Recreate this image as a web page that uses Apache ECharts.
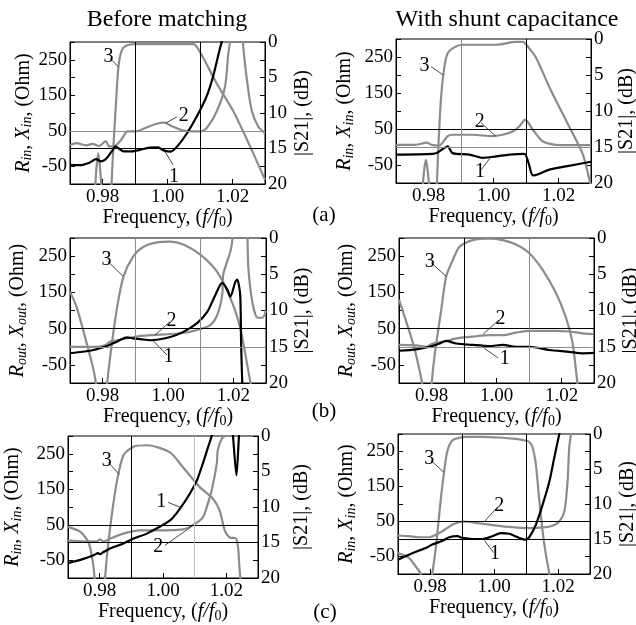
<!DOCTYPE html>
<html>
<head>
<meta charset="utf-8">
<script src="https://cdn.jsdelivr.net/npm/echarts@6/dist/echarts.min.js"></script>
<style>html,body{margin:0;padding:0;background:#fff;}#c{width:636px;height:625px;}</style>
</head>
<body>
<div id="c"></div>
<script>
// ---------- data (frequency f/f0, value) ----------
// curve 1 / curve 2 in Ohm (left axis), curve 3 = |S21| in dB (right axis, inverted)
const aL_c1 = [[0.970,-46],[0.973,-47],[0.976,-40],[0.978,-30],[0.9795,-36],[0.981,-30],[0.983,-6],[0.984,6],[0.985,0],[0.9865,-8],[0.989,-8],[0.9915,-4],[0.994,2],[0.997,3],[0.999,-6],[1.001,-9],[1.003,6],[1.006,43],[1.009,90],[1.012,146],[1.014,202],[1.016,277],[1.0175,330],[1.019,420]];
const aL_c2 = [[0.970,10],[0.972,15],[0.975,9],[0.977,13],[0.979,7],[0.981,21],[0.982,6],[0.9836,6],[0.9857,24],[0.9877,48],[0.990,48],[0.993,57],[0.9964,69],[0.999,73],[1.0015,62],[1.0046,51],[1.0077,48],[1.010,48],[1.012,57],[1.0151,104],[1.0177,174],[1.0187,267],[1.0194,314],[1.0205,600],[1.022,600],[1.0231,314],[1.0244,196],[1.0259,108],[1.0279,62],[1.030,43]];
const aL_c3 = [[0.970,30],[0.977,30],[0.9778,20],[0.9787,15.7],[0.9796,20],[0.9805,30],[0.9822,30],[0.9828,20],[0.9833,15.2],[0.9842,8.2],[0.9849,3.5],[0.9859,1.2],[0.9874,0.5],[0.990,0.3],[1.000,0.3],[1.008,0.3],[1.010,1.4],[1.0151,5.8],[1.0203,9.8],[1.0254,14.7],[1.030,19.4]];
const aL_notes = [['3',0.9823,254,0.9849,230],['2',1.0029,89,0.9995,72],['1',1.0017,-46,0.9993,-10]];

const aR_c1 = [[0.970,-21],[0.9813,-19],[0.9828,-15],[0.9845,-5],[0.9859,2],[0.9874,-17],[0.9926,-21],[0.9967,-30],[1.0008,-26],[1.0049,-21],[1.0095,-19],[1.0108,-45],[1.0121,-79],[1.014,-75],[1.0172,-63],[1.0223,-54],[1.030,-41]];
const aR_c2 = [[0.970,6],[0.976,6],[0.9795,12],[0.981,6],[0.9833,4],[0.9859,30],[0.9874,34],[0.9936,34],[0.9997,30],[1.0028,34],[1.0059,43],[1.0079,57],[1.0098,76],[1.0121,48],[1.0151,16],[1.0192,6],[1.030,5]];
const aR_c3 = [[0.970,30],[0.9776,30],[0.9783,20],[0.9792,16.8],[0.9801,20],[0.9808,30],[0.9822,30],[0.9826,20],[0.9838,8.5],[0.9849,3.8],[0.9859,2],[0.9874,1.3],[0.9905,0.8],[0.9967,0.8],[1.0008,0.8],[1.0069,0.4],[1.009,0.4],[1.011,1.3],[1.0131,2.6],[1.0172,6.7],[1.0223,11.3],[1.0274,15.9],[1.0295,19.5],[1.030,20.5]];
const aR_notes = [['3',0.9808,223,0.9846,200],['2',0.9962,67,1.0008,29],['1',0.9962,-63,0.9992,-28]];

const bL_c1 = [[0.970,-18],[0.9772,-9],[0.9812,2],[0.9843,14],[0.9874,26],[0.9894,23],[0.9925,20],[0.9945,18],[1.0007,27],[1.0047,41],[1.009,66],[1.012,96],[1.0145,143],[1.0166,176],[1.0182,157],[1.0191,138],[1.0206,179],[1.0212,185],[1.0221,143],[1.0224,0],[1.0228,-120]];
const bL_c2 = [[0.970,0],[0.978,0],[0.981,5],[0.9823,14],[0.9874,23],[0.9915,30],[0.9945,32],[1.0047,38],[1.0099,49],[1.013,60],[1.0151,88],[1.0166,143],[1.0169,199],[1.0181,235],[1.0191,263],[1.0197,296],[1.0205,500],[1.0236,500],[1.0243,309],[1.0246,218],[1.0258,124],[1.0274,80],[1.0289,80],[1.030,100]];
const bL_c3 = [[0.970,7.4],[0.972,9.5],[0.9751,14.5],[0.9772,18.2],[0.9782,21],[0.980,30],[0.9812,21],[0.9823,16.4],[0.9843,9.9],[0.9864,5.3],[0.9894,2.5],[0.9925,1.2],[0.9966,0.6],[1.0007,0.5],[1.0047,0.9],[1.0099,2.3],[1.0151,4.7],[1.0191,8.3],[1.0221,12.4],[1.0252,19.9],[1.026,22]];
const bL_notes = [['3',0.9816,235,0.9862,195],['2',1.0006,69,0.996,32],['1',0.9997,-23,0.9954,17]];

const bR_c1 = [[0.970,-11],[0.9753,-7],[0.9794,0],[0.9825,9],[0.9845,16],[0.9876,9],[0.9927,5],[0.9978,2],[1.0019,5],[1.006,0],[1.0101,0],[1.0162,-9],[1.0224,-14],[1.0264,-18],[1.030,-17]];
const bR_c2 = [[0.970,5],[0.9753,4],[0.9784,0],[0.9804,9],[0.984,14],[0.9876,23],[0.9927,28],[0.9978,32],[1.0019,32],[1.006,39],[1.0101,44],[1.0142,44],[1.0183,44],[1.0224,42],[1.0264,37],[1.030,35]];
const bR_c3 = [[0.970,8.5],[0.9743,14.5],[0.9763,18.2],[0.9774,21],[0.979,30],[0.9799,21],[0.9809,16.4],[0.983,9.9],[0.9845,5.3],[0.9866,3],[0.9886,1.2],[0.9927,0.3],[0.9978,0.1],[1.0019,0.3],[1.006,0.9],[1.0101,2.1],[1.0142,4.4],[1.0183,7.6],[1.0213,10.9],[1.0234,14.5],[1.0249,20],[1.0255,22]];
const bR_notes = [['3',0.9799,232,0.9845,194],['2',1.0008,74,0.9959,35],['1',1.0005,-31,0.9962,-4]];

const cL_c1 = [[0.970,-58],[0.9749,-46],[0.9781,-36],[0.9795,-30],[0.980,-33],[0.9812,-27],[0.9833,-17],[0.9875,-3],[0.9907,11],[0.9949,25],[1.0022,62],[1.0054,96],[1.0085,138],[1.0107,175],[1.0126,223],[1.0142,268],[1.0155,305],[1.0165,400],[1.021,400],[1.0221,300],[1.0232,189],[1.024,300],[1.025,400],[1.030,400]];
const cL_c2 = [[0.970,6],[0.9749,3],[0.9791,3],[0.9801,9],[0.9812,3],[0.9833,11],[0.9875,25],[0.9927,34],[0.9959,34],[1.0063,37],[1.0094,49],[1.0126,71],[1.0142,111],[1.0154,148],[1.017,223],[1.0173,260],[1.0186,293],[1.0201,302],[1.0217,305],[1.025,330],[1.030,340]];
const cL_c3 = [[0.970,12.8],[0.9739,13.5],[0.9765,15],[0.9779,17.9],[0.9784,20],[0.980,26],[0.9817,20],[0.9823,16.8],[0.9838,11.2],[0.9854,6.5],[0.9875,2.7],[0.9907,1.5],[0.9949,1.3],[1.0022,2.3],[1.0063,4.4],[1.0116,7.2],[1.0157,8.8],[1.0179,10.5],[1.0195,13.3],[1.0211,14.3],[1.023,14.4],[1.0237,15.7],[1.0242,18.9],[1.0248,22]];
const cL_notes = [['3',0.9827,226,0.9862,192],['1',1.0016,113,1.0058,98],['2',1.0006,-8,1.0095,48]];

const cR_c1 = [[0.970,-59],[0.9734,-45],[0.9766,-33],[0.9787,-26],[0.9807,-16],[0.9839,-5],[0.986,5],[0.9886,8],[0.9901,3],[0.9933,0],[0.9964,0],[0.9995,8],[1.0021,17],[1.0047,15],[1.0079,3],[1.0098,-2],[1.011,5],[1.0131,41],[1.0152,98],[1.0173,164],[1.0188,231],[1.0204,300],[1.021,330]];
const cR_c2 = [[0.970,10],[0.9734,8],[0.9766,5],[0.9797,5],[0.9818,12],[0.9839,22],[0.987,41],[0.9907,50],[0.9943,46],[0.9985,41],[1.0027,36],[1.0068,33],[1.011,31],[1.0152,33],[1.0183,38],[1.0204,50],[1.022,79],[1.023,165],[1.0235,260],[1.0241,305],[1.025,400],[1.030,400]];
const cR_c3 = [[0.970,17],[0.9734,17.7],[0.9755,18.9],[0.9771,20],[0.979,25],[0.9807,20],[0.9818,16.3],[0.9834,9.2],[0.9844,5.4],[0.9854,2.5],[0.987,0.9],[0.9912,0.4],[0.9964,0.4],[1.0016,0.5],[1.0068,0.7],[1.0094,0.9],[1.011,1.1],[1.0121,2],[1.0131,4.4],[1.0141,9.2],[1.0152,13.9],[1.0162,17.2],[1.0173,20],[1.018,23]];
const cR_notes = [['3',0.9802,225,0.9843,191],['2',1.0012,92,0.9968,48],['1',0.9999,-39,0.997,-4]];

const refOhm = [50, 0];          // horizontal reference lines (Ohm)
const refFreq = [0.99, 1.01];     // vertical reference lines (f/f0)
const xLabelTicks = [0.98, 1.00, 1.02];
const ohmLabelTicks = [-50, 50, 150, 250];
const titles = ['Before matching', 'With shunt capacitance'];
const rowTags = ['(a)', '(b)', '(c)'];

// ---------- styling / layout ----------
const SERIF = "'Liberation Serif','DejaVu Serif','Times New Roman',serif";
const GRAY = '#8c8c8c', BLACK = '#000', LGRAY = '#bdbdbd';
const panels = [
  {grid:{left:70,top:42,width:195,height:142}, gapL:35, gapR:27, sub:'in', c1:aL_c1,c2:aL_c2,c3:aL_c3,notes:aL_notes, ref:[GRAY,BLACK,BLACK,BLACK]},
  {grid:{left:396,top:39,width:195,height:144}, gapL:40, gapR:17, sub:'in', c1:aR_c1,c2:aR_c2,c3:aR_c3,notes:aR_notes, ref:[BLACK,GRAY,GRAY,BLACK]},
  {grid:{left:70,top:238,width:196,height:145}, gapL:41, gapR:26, sub:'out', c1:bL_c1,c2:bL_c2,c3:bL_c3,notes:bL_notes, ref:[BLACK,GRAY,GRAY,GRAY]},
  {grid:{left:399,top:238,width:195,height:145}, gapL:41, gapR:26, sub:'out', c1:bR_c1,c2:bR_c2,c3:bR_c3,notes:bR_notes, ref:[BLACK,GRAY,BLACK,GRAY]},
  {grid:{left:68,top:436,width:190,height:142}, gapL:44, gapR:33, sub:'in', c1:cL_c1,c2:cL_c2,c3:cL_c3,notes:cL_notes, ref:[BLACK,BLACK,BLACK,LGRAY]},
  {grid:{left:398,top:434,width:192,height:140}, gapL:40, gapR:27, sub:'in', c1:cR_c1,c2:cR_c2,c3:cR_c3,notes:cR_notes, ref:[BLACK,BLACK,BLACK,BLACK]}
];

const rich = {
  n:{fontFamily:SERIF,fontSize:20,color:'#000',lineHeight:22},
  i:{fontFamily:SERIF,fontSize:20,color:'#000',fontStyle:'italic',lineHeight:22},
  s:{fontFamily:SERIF,fontSize:14,color:'#000',fontStyle:'italic',lineHeight:14,verticalAlign:'bottom'},
  s0:{fontFamily:SERIF,fontSize:14,color:'#000',lineHeight:14,verticalAlign:'bottom'}
};
const near = (a,b)=>Math.abs(a-b)<1e-6;

const grids=[], xAxes=[], yAxes=[], series=[];
panels.forEach((p,i)=>{
  grids.push(Object.assign({show:true,borderColor:'#000',borderWidth:1,backgroundColor:'transparent',containLabel:false,outerBoundsMode:'none'},p.grid));
  xAxes.push({
    gridIndex:i,type:'value',min:0.97,max:1.03,interval:0.01,
    axisLine:{show:true,onZero:false,lineStyle:{color:'#000',width:1}},
    axisTick:{show:true,inside:true,length:5,lineStyle:{color:'#000'}},
    splitLine:{show:false},
    axisLabel:{color:'#000',fontFamily:SERIF,fontSize:19,margin:4,
      formatter:v=>xLabelTicks.some(t=>near(t,v))?v.toFixed(2):''},
    name:'{n|Frequency, (}{i|f/f}{s0|0}{n|)}',nameLocation:'middle',nameGap:20,
    nameTextStyle:{rich:rich}
  });
  yAxes.push({
    gridIndex:i,type:'value',position:'left',min:-100,max:300,interval:50,
    axisLine:{show:true,onZero:false,lineStyle:{color:'#000'}},
    axisTick:{show:true,inside:true,length:5,lineStyle:{color:'#000'}},
    splitLine:{show:false},
    axisLabel:{color:'#000',fontFamily:SERIF,fontSize:19,margin:3,
      formatter:v=>ohmLabelTicks.some(t=>near(t,v))?String(v):''},
    name:'{i|R}{s|'+p.sub+'}{n|, }{i|X}{s|'+p.sub+'}{n|, (Ohm)}',
    nameLocation:'middle',nameRotate:90,nameGap:p.gapL,nameTextStyle:{rich:rich}
  });
  yAxes.push({
    gridIndex:i,type:'value',position:'right',min:0,max:20,interval:5,inverse:true,
    axisLine:{show:true,onZero:false,lineStyle:{color:'#000'}},
    axisTick:{show:true,inside:true,length:5,lineStyle:{color:'#000'}},
    minorTick:{show:true,splitNumber:2,length:5,lineStyle:{color:'#000'}},
    splitLine:{show:false},minorSplitLine:{show:false},
    axisLabel:{color:'#000',fontFamily:SERIF,fontSize:19,margin:3,showMinLabel:true,showMaxLabel:true},
    name:'{n||S21|, (dB)}',nameLocation:'middle',nameRotate:90,nameGap:p.gapR,nameTextStyle:{rich:rich}
  });
  const base = {type:'line',xAxisIndex:i,showSymbol:false,symbol:'none',smooth:0.25,clip:true,silent:true,animation:false};
  series.push(Object.assign({},base,{
    yAxisIndex:2*i+1,data:p.c3,z:2,lineStyle:{color:GRAY,width:2.2}
  }));
  series.push(Object.assign({},base,{
    yAxisIndex:2*i,data:p.c2,z:3,lineStyle:{color:GRAY,width:2.2},
    markLine:{silent:true,symbol:'none',animation:false,label:{show:false},
      data:[
        {yAxis:refOhm[0],lineStyle:{color:p.ref[0],width:1,type:'solid'}},
        {yAxis:refOhm[1],lineStyle:{color:p.ref[1],width:1,type:'solid'}},
        {xAxis:refFreq[0],lineStyle:{color:p.ref[2],width:1,type:'solid'}},
        {xAxis:refFreq[1],lineStyle:{color:p.ref[3],width:1,type:'solid'}}
      ]}
  }));
  series.push(Object.assign({},base,{
    yAxisIndex:2*i,data:p.c1,z:4,lineStyle:{color:BLACK,width:2.2},
    markLine:{silent:true,symbol:'none',animation:false,
      lineStyle:{color:'#333',width:0.9,type:'solid'},
      data:p.notes.map(n=>[
        {coord:[n[1],n[2]],label:{show:true,position:'start',distance:2,formatter:n[0],
          color:'#000',fontFamily:SERIF,fontSize:20}},
        {coord:[n[3],n[4]]}
      ])}
  }));
});

const txt = (t,x,y,fs)=>({type:'text',x:x,y:y,style:{text:t,fontFamily:SERIF,fontSize:fs,fill:'#000',align:'center',verticalAlign:'middle',textAlign:'center',textVerticalAlign:'middle'}});
const graphic = [
  txt(titles[0],167,20,24), txt(titles[1],507,20,24),
  txt(rowTags[0],324,215,21), txt(rowTags[1],324,411,21), txt(rowTags[2],325,612,21)
];

const chart = echarts.init(document.getElementById('c'),null,{renderer:'canvas',width:636,height:625});
chart.setOption({
  animation:false,backgroundColor:'#fff',
  grid:grids,xAxis:xAxes,yAxis:yAxes,series:series,graphic:graphic
});
</script>
</body>
</html>
